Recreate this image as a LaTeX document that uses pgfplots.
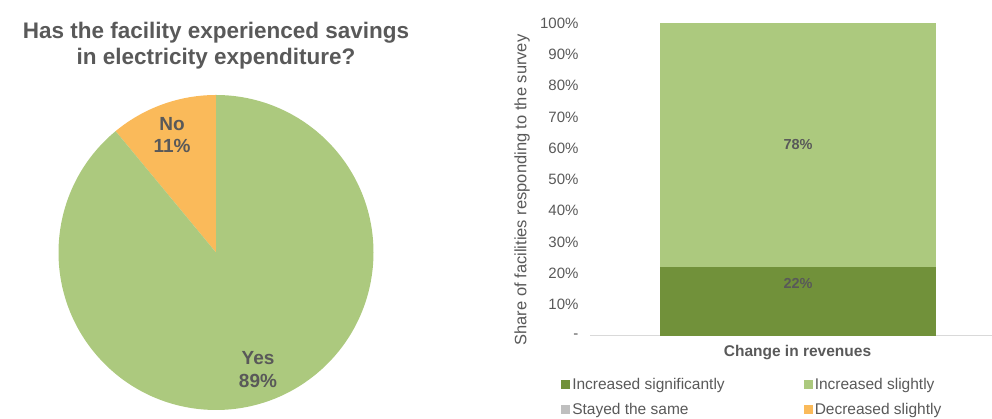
\documentclass[border=0pt]{standalone}
\usepackage{pgfplots}
\pgfplotsset{compat=1.18}
\usepackage{fontspec}
\setmainfont{Liberation Sans}
\definecolor{lgreen}{RGB}{172,201,126}
\definecolor{dgreen}{RGB}{113,145,58}
\definecolor{orng}{RGB}{250,186,90}
\definecolor{lgrey}{RGB}{191,191,191}
\definecolor{txt}{RGB}{89,89,89}
\definecolor{axln}{RGB}{217,217,217}
% pie data (percent)
\def\pieNo{11}
\def\pieYes{89}
\begin{document}
\begin{tikzpicture}[x=1pt,y=1pt]
\useasboundingbox (0,0) rectangle (992,419);
% ---- title
\node[font=\fontsize{22.5}{27}\selectfont\bfseries, text=txt, anchor=base] at (216,380) {Has the facility experienced savings};
\node[font=\fontsize{22.5}{27}\selectfont\bfseries, text=txt, anchor=base] at (216,354) {in electricity expenditure?};
% ---- pie
\pgfmathsetmacro{\angNo}{90+3.6*\pieNo}
\begin{axis}[at={(216pt,166.5pt)}, anchor=center, hide axis, scale only axis,
  width=315pt, height=315pt, xmin=-1, xmax=1, ymin=-1, ymax=1, clip=false]
\fill[orng] (axis cs:0,0) -- (axis cs:0,1) arc[start angle=90, end angle=\angNo, radius=157.5pt] -- cycle;
\fill[lgreen] (axis cs:0,0) -- ++(\angNo:157.5pt) arc[start angle=\angNo, end angle=450, radius=157.5pt] -- cycle;
\end{axis}
\node[font=\fontsize{19}{22}\selectfont\bfseries, text=txt, anchor=base] at (172,288) {No};
\node[font=\fontsize{19}{22}\selectfont\bfseries, text=txt, anchor=base] at (172,266) {\pieNo\%};
\node[font=\fontsize{19}{22}\selectfont\bfseries, text=txt, anchor=base] at (258,54) {Yes};
\node[font=\fontsize{19}{22}\selectfont\bfseries, text=txt, anchor=base] at (258,31) {\pieYes\%};
% ---- bar chart
\begin{axis}[name=bars, at={(590pt,83pt)}, anchor=south west, scale only axis,
  width=402pt, height=313pt,
  ybar stacked, bar width=276pt,
  xmin=-0.7536, xmax=0.7029, ymin=0, ymax=100,
  axis x line*=bottom, axis y line*=left,
  x axis line style={draw=axln, line width=1pt, -},
  y axis line style={draw=none},
  xtick=\empty,
  ytick={0,10,...,100},
  yticklabels={-,10\%,20\%,30\%,40\%,50\%,60\%,70\%,80\%,90\%,100\%},
  major tick length=0pt,
  yticklabel style={font=\fontsize{15}{18}\selectfont, text=txt, xshift=-8pt},
  legend columns=2,
  legend cell align=left,
  legend image code/.code={\fill[#1] (0pt,-4.5pt) rectangle (9pt,4.5pt);},
  legend style={draw=none, fill=none, inner sep=0pt,
    at={(axis description cs:-0.072,-0.128)}, anchor=north west,
    font=\fontsize{15.5}{18}\selectfont, text=txt,
    nodes={inner sep=2pt},
    /tikz/every even column/.append style={column sep=77pt},
    row sep=8pt},
]
\addplot[fill=dgreen, draw=none] coordinates {(0,22)};
\addplot[fill=lgreen, draw=none] coordinates {(0,78)};
\addplot[fill=lgrey, draw=none] coordinates {(0,0)};
\addplot[fill=orng, draw=none] coordinates {(0,0)};
\legend{Increased significantly, Increased slightly, Stayed the same, Decreased slightly}
\end{axis}
\node[font=\fontsize{14.5}{17}\selectfont\bfseries, text=txt] at (798,274) {78\%};
\node[font=\fontsize{14.5}{17}\selectfont\bfseries, text=txt] at (798,136) {22\%};
\node[font=\fontsize{16.5}{20}\selectfont, text=txt, rotate=90] at (522,229) {Share of facilities responding to the survey};
\node[font=\fontsize{15.5}{18}\selectfont\bfseries, text=txt] at (797.5,66) {Change in revenues};
\end{tikzpicture}
\end{document}
